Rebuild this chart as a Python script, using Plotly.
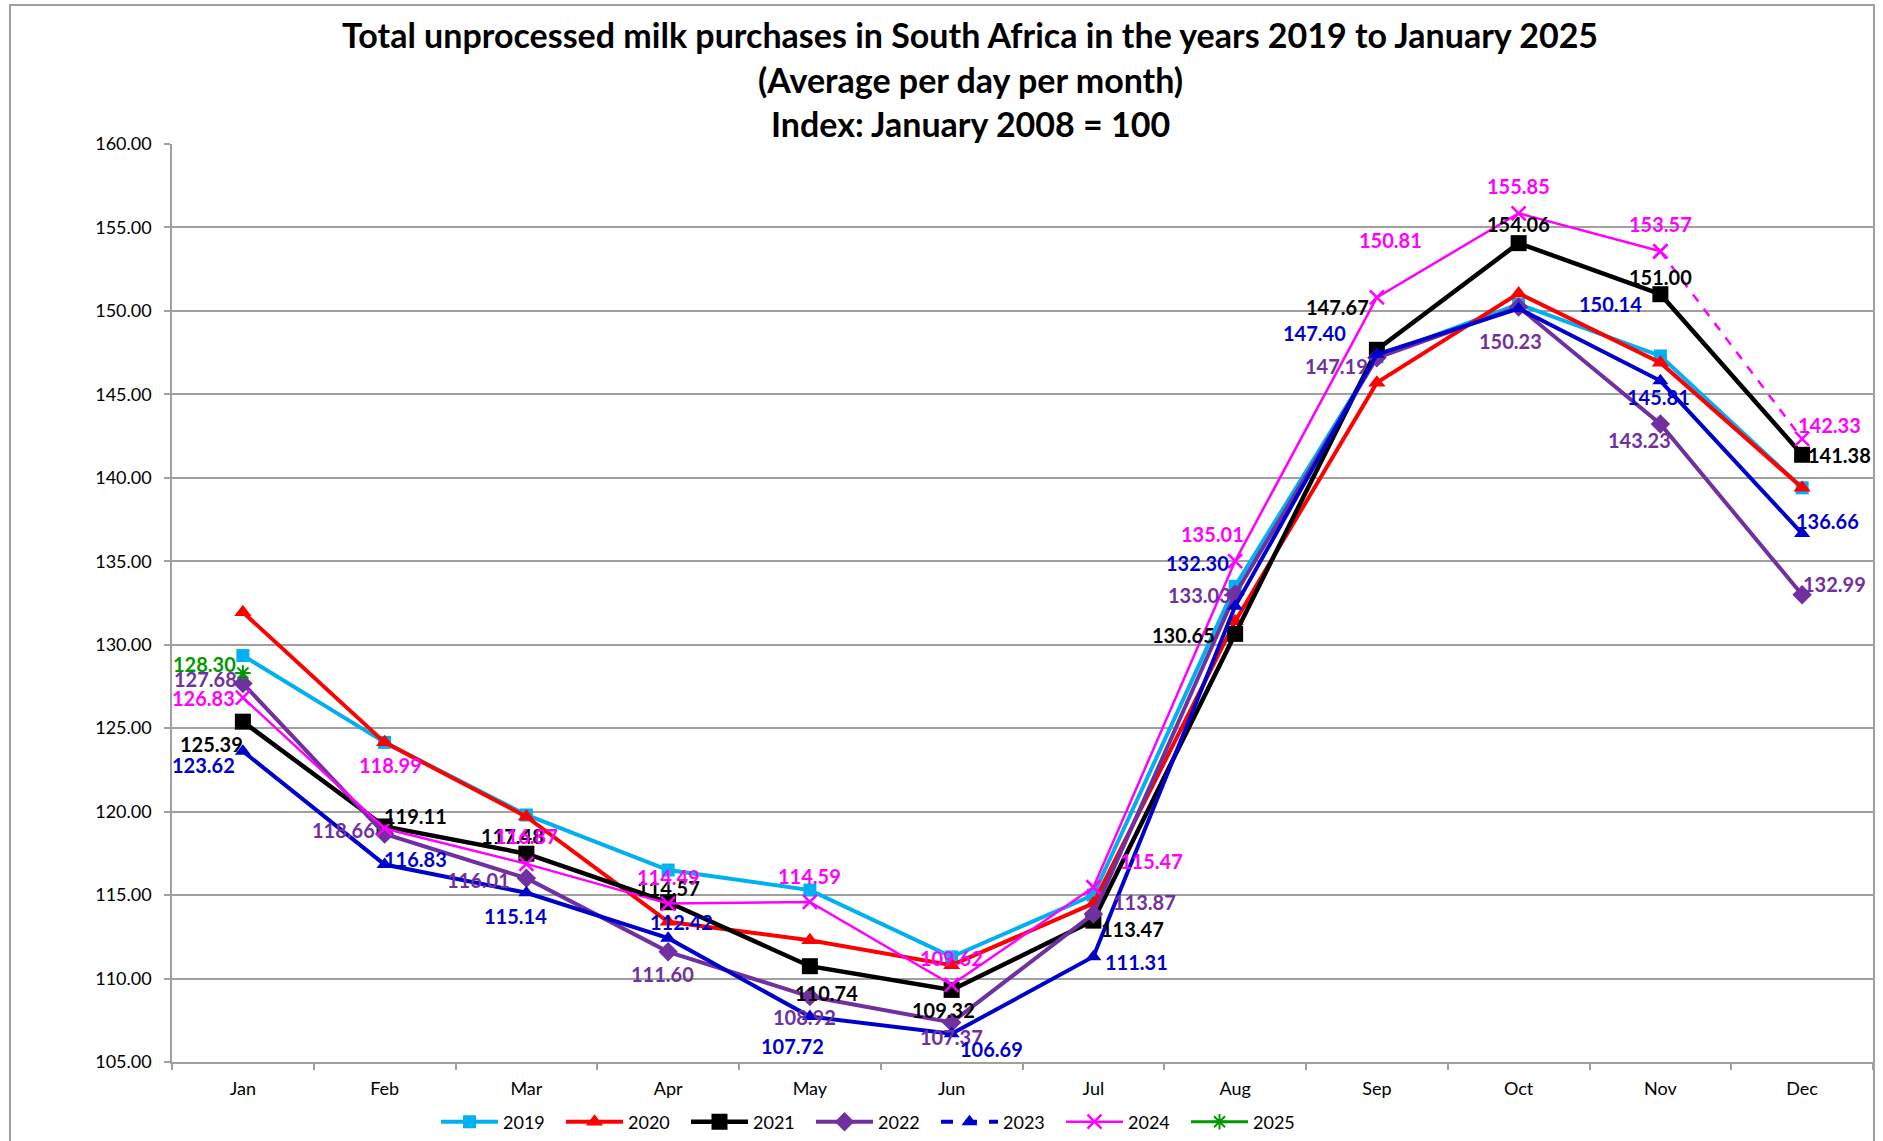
import plotly.graph_objects as go

# ---------------- data ----------------
months = ["Jan", "Feb", "Mar", "Apr", "May", "Jun", "Jul", "Aug", "Sep", "Oct", "Nov", "Dec"]
v2019 = [129.35, 124.15, 119.80, 116.50, 115.30, 111.30, 115.00, 133.50, 147.25, 150.40, 147.30, 139.40]
v2020 = [131.95, 124.15, 119.70, 113.40, 112.30, 110.80, 114.50, 131.40, 145.70, 151.05, 146.90, 139.40]
v2021 = [125.39, 119.11, 117.48, 114.57, 110.74, 109.32, 113.47, 130.65, 147.67, 154.06, 151.00, 141.38]
v2022 = [127.68, 118.66, 116.01, 111.60, 108.92, 107.37, 113.87, 133.03, 147.19, 150.23, 143.23, 132.99]
v2023 = [123.62, 116.83, 115.14, 112.42, 107.72, 106.69, 111.31, 132.30, 147.40, 150.14, 145.81, 136.66]
v2024 = [126.83, 118.99, 116.87, 114.49, 114.59, 109.62, 115.47, 135.01, 150.81, 155.85, 153.57, 142.33]
v2025 = [128.30]
y_ticks = [105, 110, 115, 120, 125, 130, 135, 140, 145, 150, 155, 160]

title_lines = [
    "Total unprocessed milk purchases in South Africa in the years 2019 to January 2025",
    "(Average per day per month)",
    "Index: January 2008 = 100",
]

# ---------------- styles ----------------
C19, C20, C21, C22, C23, C24, C25 = "#00B0F0", "#FF0000", "#000000", "#7030A0", "#0000CC", "#FF00FF", "#009900"
FONT = "Lato"
GRID = "#A0A0A0"

# label offsets in px (dx right, dy down) per series
off2021 = [(-31, 22), (31, -10), (-14, -18), (0, -14), (17, 27), (-8, 20), (39, 8), (-52, 1), (-39, -43), (0, -19), (0, -17), (37, 0)]
off2022 = [(-37, -4), (-41, -4), (-48, 2), (-6, 22), (-5, 20), (0, 15), (51, -12), (-36, 1), (-40, 8), (-8, 34), (-21, 16), (32, -11)]
off2023 = [(-39, 14), (31, -6), (-11, 23), (13, -16), (-17, 29), (40, 15), (43, 5), (-38, -43), (-62, -21), (92, -5), (-2, 16), (25, -13)]
off2024 = [(-39, 0), (6, -63), (0, -28), (0, -27), (0, -26), (0, -27), (58, -26), (-23, -27), (14, -57), (0, -27), (0, -27), (27, -14)]
off2025 = [(-38, -9)]

fig = go.Figure()


def add_series(name, vals, color, symbol, msize, lw, show=True, dash="solid", open_line=None, xs=None):
    marker = dict(symbol=symbol, size=msize, color=color)
    if open_line:
        marker["line"] = dict(width=open_line, color=color)
    fig.add_trace(go.Scatter(
        x=xs if xs is not None else months[:len(vals)], y=vals, name=name, mode="lines+markers",
        line=dict(color=color, width=lw, dash=dash), marker=marker, showlegend=show,
        hoverinfo="skip"))


add_series("2019", v2019, C19, "square", 13, 4)
add_series("2020", v2020, C20, "triangle-up", 15, 4)
add_series("2021", v2021, C21, "square", 16, 4.5)
add_series("2022", v2022, C22, "diamond", 15, 4)
add_series("2023", v2023, C23, "triangle-up", 14, 4, show=False)
# legend entry for 2023 (dashed sample as in the reference legend)
fig.add_trace(go.Scatter(x=[None], y=[None], name="2023", mode="lines+markers",
                         line=dict(color=C23, width=4, dash="dash"),
                         marker=dict(symbol="triangle-up", size=14, color=C23)))
add_series("2024", v2024[:11], C24, "x-thin-open", 14, 2.5, open_line=2.5, xs=months[:11])
add_series("2024", v2024[10:], C24, "x-thin-open", 14, 2.5, show=False, dash="dash", open_line=2.5, xs=months[10:])
add_series("2025", v2025, C25, "asterisk-open", 13, 3, open_line=2)

# data labels
annotations = []
for vals, offs, color in [(v2021, off2021, C21), (v2022, off2022, C22), (v2023, off2023, C23),
                          (v2024, off2024, C24), (v2025, off2025, C25)]:
    for m, v, (dx, dy) in zip(months, vals, offs):
        annotations.append(dict(x=m, y=v, xref="x", yref="y", text=f"{v:.2f}", showarrow=False,
                                xshift=dx, yshift=-dy,
                                font=dict(family=FONT, size=20, color=color, weight="bold")))

# title lines
W, H = 1883, 1141
L, R, T, B = 172, 10, 144, 79
PW, PH = W - L - R, H - T - B
title_y_px = [34, 79, 124]
for line, ypx in zip(title_lines, title_y_px):
    annotations.append(dict(x=(970 - L) / PW, y=(H - B - ypx) / PH, xref="paper", yref="paper",
                            text=line, showarrow=False, xanchor="center", yanchor="middle",
                            font=dict(family=FONT, size=34, color="#000000", weight="bold")))

fig.update_layout(
    width=W, height=H,
    margin=dict(l=L, r=R, t=T, b=B, pad=0, autoexpand=False),
    paper_bgcolor="white", plot_bgcolor="white",
    font=dict(family=FONT, size=18, color="#000000"),
    annotations=annotations,
    showlegend=True,
    legend=dict(orientation="h", x=(436 - L) / PW, xanchor="left", y=(H - B - 1122) / PH, yanchor="middle",
                font=dict(family=FONT, size=18, color="#000000"), itemwidth=57,
                entrywidth=53, entrywidthmode="pixels", bgcolor="rgba(0,0,0,0)", traceorder="normal"),
    shapes=[dict(type="rect", xref="paper", yref="paper",
                 x0=(10 - L) / PW, x1=(1874 - L) / PW, y0=(H - B - 1150) / PH, y1=(H - B - 5) / PH,
                 line=dict(color="#A0A0A0", width=2), fillcolor="rgba(0,0,0,0)", layer="below")],
)

fig.update_xaxes(type="category", categoryorder="array", categoryarray=months, range=[-0.5, 11.5],
                 showline=True, linecolor=GRID, linewidth=1.5, showgrid=False,
                 ticks="outside", tickson="boundaries", ticklen=6, tickcolor=GRID, tickwidth=1.5,
                 tickfont=dict(family=FONT, size=18), ticklabelstandoff=10, zeroline=False)
fig.update_yaxes(range=[105, 160], tickvals=y_ticks, ticktext=[f"{t:.2f}" for t in y_ticks],
                 showline=True, linecolor=GRID, linewidth=1.5, showgrid=True, gridcolor=GRID, gridwidth=1.5,
                 ticks="outside", ticklen=6, tickcolor=GRID, tickwidth=1.5,
                 tickfont=dict(family=FONT, size=18), ticklabelstandoff=9, zeroline=False)

fig.write_html("out.html", config={"displayModeBar": False},
               post_script="document.body.style.margin='0';document.body.style.overflow='hidden';")
